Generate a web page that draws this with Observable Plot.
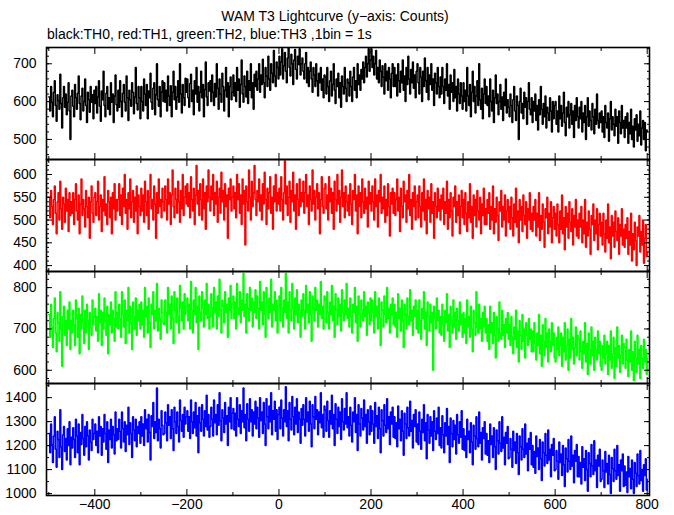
<!DOCTYPE html>
<html><head><meta charset="utf-8">
<script src="https://cdn.jsdelivr.net/npm/d3@7"></script>
<script src="https://cdn.jsdelivr.net/npm/@observablehq/plot@0.6"></script>
<style>
body{margin:0;background:#fff;font-family:"Liberation Sans",Arial,sans-serif;}
#wrap{position:relative;width:674px;height:515px;overflow:hidden;}
.t{position:absolute;font-size:14px;white-space:nowrap;color:#000;}
.p{position:absolute;left:0;}
</style></head><body>
<div id="wrap">
<div class="t" style="left:0;width:670px;text-align:center;top:8px;">WAM T3 Lightcurve (y&#8722;axis: Counts)</div>
<div class="t" style="left:47px;top:26px;">black:TH0, red:TH1, green:TH2, blue:TH3 ,1bin = 1s</div>
</div>
<script>
// time bins (s), sampled every 2 s from -500 to 800
const times = d3.range(-500, 801, 2);

const th0 = [
612,575,640,598,560,625,655,590,548,618,603,580,672,595,530,610,640,585,620,565,598,650,575,500,615,
630,588,560,645,610,580,622,668,595,552,615,635,575,600,660,590,545,625,605,572,640,598,618,555,630,
595,640,570,612,655,588,548,628,605,680,590,560,622,640,580,610,565,650,598,620,545,615,670,592,575,
630,585,655,600,560,622,645,598,575,668,610,550,630,605,588,650,625,568,612,690,595,578,640,610,555,
640,600,575,660,620,590,645,555,628,610,675,598,580,635,650,565,618,700,605,588,640,560,625,655,600,
650,598,630,575,668,615,590,642,560,625,680,605,640,580,612,655,598,700,620,570,645,610,590,662,625,
660,610,585,648,672,600,630,565,655,620,690,598,640,575,625,680,610,645,560,632,705,612,590,650,628,
655,600,670,625,590,648,612,700,635,580,660,620,598,675,640,575,630,690,612,650,560,640,665,605,625,
670,615,650,600,690,630,660,585,645,710,620,598,668,640,612,680,595,655,630,700,610,650,580,672,640,
680,630,660,700,625,670,645,712,650,610,690,668,640,720,660,630,700,675,650,735,668,640,705,690,660,
720,670,705,740,660,695,730,680,650,715,742,690,668,725,700,645,710,738,685,660,720,698,740,670,700,
715,680,660,700,730,650,690,640,680,705,660,625,690,670,640,700,655,615,675,650,690,630,660,610,670,
665,620,690,640,600,655,680,615,645,700,630,595,660,640,675,610,650,585,668,640,620,690,635,600,660,
650,615,680,640,600,665,690,630,655,610,700,645,670,630,685,660,705,650,690,720,665,700,740,680,710,
740,690,720,670,700,735,660,690,650,710,680,640,695,665,620,700,655,680,630,690,660,610,675,700,640,
690,640,670,615,700,655,625,680,650,710,630,668,600,690,645,720,660,620,685,650,705,635,670,610,680,
700,650,620,690,665,600,680,640,715,655,625,690,605,670,645,700,630,660,590,675,650,620,690,640,610,
665,620,690,640,595,660,630,700,615,645,580,670,625,650,600,685,610,640,575,660,620,595,650,615,580,
650,600,630,575,690,615,590,645,560,625,680,600,640,570,615,655,590,700,605,580,635,555,620,660,595,
640,590,615,560,660,600,575,630,545,610,670,595,620,565,600,645,580,612,550,625,590,660,570,605,585,
560,620,590,545,605,640,575,550,615,590,500,600,635,570,595,555,625,585,610,540,600,650,580,565,610,
545,600,575,620,550,590,525,605,565,640,580,540,595,560,615,530,585,570,550,610,575,520,600,555,590,
600,540,575,520,615,555,590,535,570,625,545,510,585,560,600,530,565,595,540,575,505,590,550,610,560,
530,585,555,600,520,570,545,590,500,560,610,535,575,550,525,595,560,515,580,540,620,550,530,570,545,
575,520,560,505,590,545,530,570,495,555,600,525,560,540,510,580,535,560,490,575,545,515,590,530,550,
505,560,530,570,490,545,515,580,500,535,480,555,525,565,495,540,510,575,485,530,550,500,545,470,525,
520];

const th1 = [
550,505,565,530,490,545,575,515,470,540,560,500,585,525,480,550,535,495,570,520,545,475,560,510,540,
515,560,490,545,580,520,500,555,470,535,590,510,545,525,485,565,530,505,550,460,540,575,515,495,550,
560,510,540,585,500,530,555,475,545,520,595,510,535,490,565,540,505,550,470,560,525,580,500,545,520,
545,580,510,555,490,570,530,600,515,545,480,560,525,590,505,540,565,495,550,520,575,470,555,530,510,
570,520,555,495,585,540,510,565,480,550,600,525,545,500,575,535,460,560,515,590,530,545,505,570,540,
520,575,545,500,590,535,560,490,555,610,530,505,570,545,515,585,540,495,565,525,600,510,550,575,535,
580,530,560,505,595,545,520,570,490,555,620,535,565,510,580,545,500,590,525,560,480,575,540,610,550,
520,575,545,600,510,560,535,585,495,550,570,515,605,540,565,500,580,530,555,460,570,545,590,520,550,
575,525,560,505,600,545,580,515,555,490,590,535,565,445,575,540,520,610,550,500,585,530,560,620,545,
510,565,540,590,520,555,500,580,535,605,545,490,570,525,560,595,515,550,480,575,540,600,520,560,535,
570,520,595,545,500,560,630,535,575,510,550,585,495,565,540,605,520,555,480,580,545,510,590,530,560,
540,585,515,560,600,530,555,490,575,545,520,610,535,565,500,550,580,525,560,470,545,595,530,515,570,
580,525,555,500,595,540,570,515,560,480,585,545,520,600,535,565,495,550,610,530,560,505,575,540,520,
555,510,580,535,490,565,545,600,520,555,470,575,530,560,505,590,540,515,570,525,550,485,585,535,560,
520,575,540,500,590,530,555,485,565,540,600,515,550,525,575,495,545,510,580,530,465,560,535,570,515,
560,510,545,590,520,550,475,570,530,505,585,540,555,495,565,525,600,510,545,480,560,530,575,500,540,
555,505,575,530,485,560,520,590,500,545,470,565,525,550,495,580,515,540,460,560,530,505,570,520,545,
500,555,525,570,490,540,515,585,480,545,505,560,520,465,550,530,575,495,540,510,555,470,530,565,505,
545,490,560,515,475,540,505,580,495,530,460,555,510,545,485,565,520,500,550,470,535,510,570,490,525,
490,545,515,560,480,530,500,575,470,525,495,550,510,455,540,520,565,485,530,500,555,465,520,545,495,
530,480,550,505,465,535,495,570,485,520,450,545,500,530,475,555,510,490,540,460,525,500,560,480,515,
475,530,500,545,465,515,485,560,455,510,480,535,495,440,525,505,550,470,515,485,540,450,505,530,480,
515,465,535,490,450,520,480,555,470,505,435,530,485,515,460,540,495,475,525,445,510,485,545,465,500,
460,515,485,530,450,500,470,545,440,495,465,520,480,425,510,490,535,455,500,470,525,435,490,515,465,
495,445,515,470,430,500,460,535,450,485,415,510,465,495,440,520,475,455,505,425,490,465,525,445,480,
440,490,460,505,425,475,445,515,410,470,435,495,455,400,485,465,510,430,475,445,500,405,460,490,420,
430];

const th2 = [
735,680,760,705,655,725,775,690,645,740,715,670,790,700,610,730,755,685,720,660,745,700,765,650,720,
690,745,710,660,770,725,680,750,640,735,700,780,715,665,745,690,760,720,650,740,705,685,770,710,730,
750,695,730,670,785,715,745,660,740,700,775,720,685,755,640,735,710,765,690,745,725,670,790,705,740,
700,760,725,680,790,735,705,770,665,745,720,800,690,755,715,650,765,730,700,775,685,745,720,760,700,
765,710,745,680,800,730,755,690,775,715,655,760,735,790,700,745,720,810,695,750,725,675,770,740,715,
710,770,740,690,800,735,760,700,780,725,665,790,745,715,775,730,690,805,750,720,765,700,785,735,755,
775,720,760,700,815,745,690,770,735,800,715,755,650,780,740,720,790,750,705,770,735,810,725,760,700,
730,785,750,705,800,740,765,700,780,730,820,745,690,770,755,715,790,740,760,680,775,745,805,725,760,
780,725,765,700,810,750,735,790,715,770,745,835,730,760,690,785,750,720,800,745,775,705,765,740,795,
725,780,750,700,815,745,765,710,790,735,680,800,755,725,775,740,820,705,760,745,790,720,770,690,755,
780,720,800,750,705,770,740,835,725,765,690,790,745,720,810,750,700,775,735,795,715,760,745,680,770,
730,785,745,700,805,740,760,715,790,735,670,780,750,720,800,745,770,705,760,735,815,725,755,700,780,
770,715,790,740,700,765,735,805,720,755,680,785,745,710,775,730,760,695,795,740,720,770,735,810,725,
750,705,775,730,690,760,740,800,715,755,670,780,735,705,770,745,720,790,730,755,685,765,740,710,775,
720,770,740,690,790,730,755,700,775,725,660,765,745,705,780,735,715,800,725,750,690,760,735,775,710,
760,705,740,680,785,725,750,695,770,720,655,760,735,700,775,730,710,795,720,745,685,755,730,770,700,
745,690,770,720,675,750,725,790,700,740,660,765,730,695,760,715,740,600,755,725,700,775,720,745,690,
730,685,760,710,670,745,715,785,695,735,655,755,720,690,770,705,740,675,750,720,695,765,710,735,680,
740,690,725,665,770,705,730,680,755,700,645,745,715,685,790,705,690,760,700,725,670,740,705,755,690,
725,670,710,650,755,690,715,665,740,685,630,730,700,670,765,690,675,745,685,710,655,725,690,740,675,
710,660,730,680,640,705,675,745,655,695,620,720,685,650,735,670,700,630,715,685,660,725,675,700,645,
695,645,715,665,625,690,660,735,640,685,610,710,670,635,725,655,690,620,700,670,645,715,660,690,630,
620,680,650,705,635,660,690,610,680,645,715,625,660,700,600,675,630,725,650,680,615,655,705,635,685,
675,625,695,645,605,670,640,715,620,665,590,690,650,615,705,635,670,600,680,650,625,695,640,670,610,
600,660,630,685,615,640,670,590,660,625,695,605,640,680,580,655,610,705,630,660,595,635,685,615,665,
655,605,675,625,585,650,620,695,600,645,575,670,630,595,685,615,650,580,660,630,605,675,620,650,590,
630];

const th3 = [
1250,1170,1290,1205,1130,1240,1320,1185,1110,1260,1225,1150,1350,1195,1100,1245,1280,1175,1230,1140,1270,1200,1300,1120,1235,
1190,1275,1225,1150,1310,1240,1170,1290,1120,1255,1205,1330,1230,1160,1280,1195,1300,1240,1140,1265,1215,1180,1310,1225,1250,
1290,1200,1260,1170,1320,1240,1280,1160,1270,1215,1330,1250,1185,1300,1130,1265,1225,1310,1190,1280,1245,1165,1340,1220,1270,
1225,1310,1260,1190,1340,1270,1215,1300,1175,1285,1245,1360,1205,1295,1250,1150,1320,1265,1220,1310,1195,1280,1250,1300,1210,
1320,1240,1290,1200,1350,1270,1310,1215,1330,1255,1140,1325,1280,1380,1230,1300,1255,1440,1220,1310,1270,1190,1345,1285,1245,
1250,1340,1295,1220,1370,1285,1320,1230,1350,1270,1180,1360,1300,1250,1340,1280,1215,1390,1305,1260,1330,1235,1360,1290,1320,
1345,1260,1320,1230,1390,1300,1250,1340,1275,1380,1240,1325,1170,1360,1295,1260,1370,1310,1240,1345,1280,1410,1265,1330,1235,
1280,1360,1310,1240,1390,1295,1330,1245,1370,1285,1420,1305,1220,1350,1315,1255,1380,1290,1325,1200,1360,1300,1400,1270,1335,
1355,1265,1335,1240,1400,1310,1280,1370,1250,1345,1300,1440,1275,1330,1220,1375,1310,1260,1395,1300,1350,1240,1340,1290,1385,
1270,1360,1315,1235,1400,1305,1340,1250,1380,1290,1200,1395,1320,1270,1365,1300,1420,1245,1345,1310,1385,1260,1350,1225,1330,
1360,1270,1390,1315,1240,1350,1300,1445,1280,1345,1220,1380,1310,1265,1405,1320,1245,1360,1290,1395,1255,1340,1310,1210,1355,
1285,1370,1310,1240,1400,1300,1340,1260,1385,1290,1195,1370,1320,1270,1405,1310,1350,1245,1340,1295,1420,1275,1330,1235,1365,
1350,1260,1385,1305,1235,1345,1290,1410,1270,1330,1200,1375,1310,1250,1360,1280,1340,1225,1395,1300,1265,1355,1290,1420,1275,
1320,1240,1360,1285,1215,1340,1300,1400,1255,1330,1180,1370,1290,1240,1355,1315,1265,1390,1280,1330,1210,1350,1300,1245,1365,
1260,1345,1290,1210,1380,1280,1325,1230,1360,1270,1170,1350,1305,1240,1370,1285,1255,1395,1270,1320,1205,1340,1290,1360,1235,
1320,1230,1295,1195,1365,1270,1310,1220,1345,1260,1160,1335,1290,1230,1360,1275,1240,1385,1260,1305,1190,1330,1280,1350,1215,
1290,1205,1340,1260,1185,1310,1255,1370,1220,1295,1145,1330,1265,1210,1320,1240,1300,1180,1345,1260,1225,1315,1250,1360,1200,
1275,1190,1325,1245,1170,1295,1240,1355,1205,1280,1130,1315,1250,1195,1305,1225,1285,1165,1330,1245,1210,1300,1235,1345,1185,
1270,1180,1240,1150,1310,1225,1260,1170,1295,1215,1120,1285,1240,1185,1320,1230,1195,1340,1210,1255,1140,1275,1230,1300,1165,
1250,1160,1220,1130,1290,1205,1240,1150,1275,1195,1100,1265,1220,1165,1300,1210,1175,1320,1190,1235,1120,1255,1210,1280,1145,
1150,1230,1185,1110,1260,1180,1215,1125,1250,1170,1080,1240,1195,1140,1270,1185,1150,1290,1165,1210,1095,1230,1185,1255,1120,
1200,1110,1175,1085,1240,1155,1190,1100,1225,1145,1055,1215,1170,1115,1250,1160,1125,1265,1140,1185,1070,1205,1160,1230,1095,
1100,1180,1135,1060,1215,1130,1165,1075,1200,1120,1030,1190,1145,1090,1225,1135,1100,1240,1115,1160,1045,1180,1135,1205,1070,
1155,1070,1130,1040,1195,1110,1145,1055,1180,1100,1010,1170,1125,1070,1205,1115,1080,1220,1095,1140,1025,1160,1115,1185,1050,
1060,1140,1095,1025,1175,1090,1125,1040,1160,1080,1000,1150,1105,1050,1185,1095,1060,1200,1075,1120,1010,1140,1095,1165,1030,
1115,1035,1090,1005,1155,1070,1105,1020,1140,1060,1000,1130,1085,1030,1165,1075,1040,1180,1055,1100,1010,1120,1075,1145,1015,
1060];

const xMajor = [-400, -200, 0, 200, 400, 600, 800];
const xMinor = [-500, -300, -100, 100, 300, 500, 700];
const xDomain = [-505, 805];

const panels = [
  {vals: th0, color: "#000000", domain: [447, 743], major: [500, 600, 700], minor: d3.range(460, 741, 20)},
  {vals: th1, color: "#ff0000", domain: [387, 633], major: [400, 450, 500, 550, 600], minor: d3.range(390, 631, 10)},
  {vals: th2, color: "#00ff00", domain: [568, 839], major: [600, 700, 800], minor: d3.range(580, 831, 20)},
  {vals: th3, color: "#0000ff", domain: [992, 1459], major: [1000, 1100, 1200, 1300, 1400], minor: d3.range(1000, 1451, 50)}
];

const wrap = document.getElementById("wrap");
panels.forEach((p, i) => {
  const bottom = i === panels.length - 1;
  const data = p.vals.map((v, k) => ({t: times[k], c: v})).filter(d => d.t !== undefined);
  const blank = () => "";
  const marks = [
    Plot.line(data, {x: "t", y: "c", stroke: p.color, strokeWidth: 1.5, curve: "step-after", strokeLinejoin: "miter", clip: true}),
    Plot.axisX({anchor: "bottom", ticks: xMajor, tickSize: -6, tickFormat: blank, label: null}),
    Plot.axisX({anchor: "top", ticks: xMajor, tickSize: -6, tickFormat: blank, label: null}),
    Plot.axisX({anchor: "bottom", ticks: xMinor, tickSize: -3, tickFormat: blank, label: null}),
    Plot.axisX({anchor: "top", ticks: xMinor, tickSize: -3, tickFormat: blank, label: null}),
    Plot.axisY({anchor: "left", ticks: p.major, tickSize: -6, tickFormat: blank, label: null}),
    Plot.axisY({anchor: "right", ticks: p.major, tickSize: -6, tickFormat: blank, label: null}),
    Plot.axisY({anchor: "left", ticks: p.minor, tickSize: -3, tickFormat: blank, label: null}),
    Plot.axisY({anchor: "right", ticks: p.minor, tickSize: -3, tickFormat: blank, label: null}),
    Plot.axisY({anchor: "left", ticks: p.major, tickSize: 0, tickPadding: 10, tickFormat: d => String(d), label: null}),
    Plot.frame({stroke: "#000", strokeWidth: 1.6})
  ];
  if (bottom) marks.push(Plot.axisX({anchor: "bottom", ticks: xMajor, tickSize: 0, tickPadding: 4, label: null}));
  const svg = Plot.plot({
    width: 674,
    height: bottom ? 138 : 114,
    marginLeft: 46,
    marginRight: 25,
    marginTop: 1,
    marginBottom: bottom ? 25 : 1,
    x: {domain: xDomain},
    y: {domain: p.domain},
    style: {fontSize: "14px", fontFamily: "'Liberation Sans', Arial, sans-serif", color: "#000", background: "transparent", overflow: "visible"},
    marks
  });
  svg.classList.add("p");
  svg.style.top = (46 + 112 * i) + "px";
  wrap.appendChild(svg);
});
</script>
</body></html>
